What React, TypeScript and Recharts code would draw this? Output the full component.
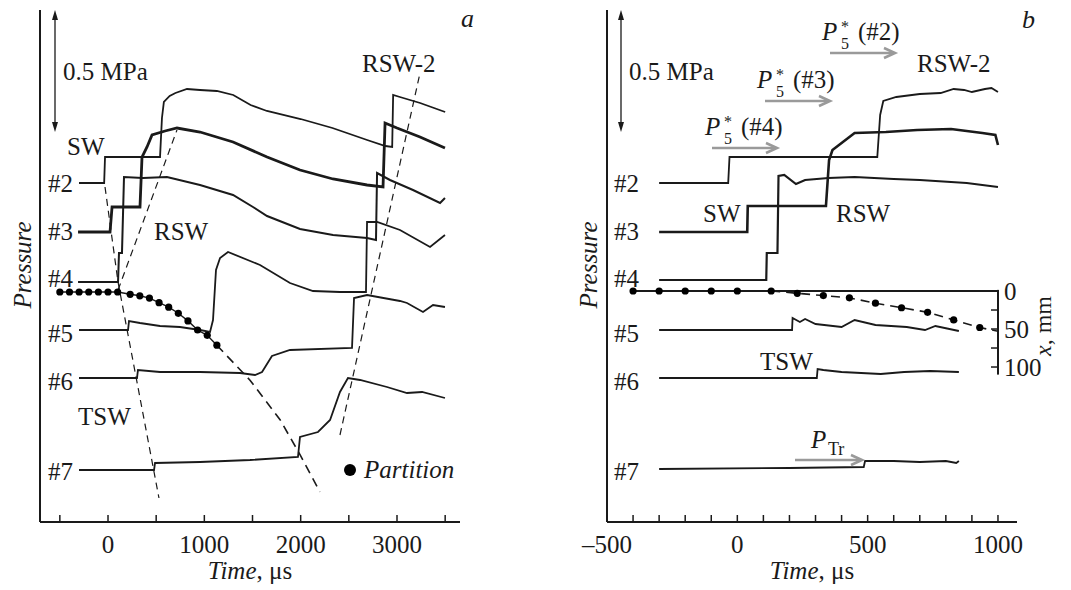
import React from "react";
import { LineChart, Line, XAxis, YAxis, ReferenceLine } from "recharts";

// time in µs, p = signal above the zero line (a.u.), x = partition position in mm
type Row = number[];
const toP = (rows: Row[]) => rows.map(([t, p]) => ({ t, p }));
const toX = (rows: Row[]) => rows.map(([t, x]) => ({ t, x }));

// ---- panel a ----
const aTicks = [-500, 0, 500, 1000, 1500, 2000, 2500, 3000, 3500];
const aTickLabels = [0, 1000, 2000, 3000];

const aGauge2 = toP([[-301, 339], [-40, 339], [-31, 365], [540, 365], [560, 404], [580, 420], [640, 426], [700, 429], [820, 433], [955, 432], [1130, 431], [1300, 427], [1480, 417], [1650, 411], [2000, 403], [2330, 394], [2690, 382], [2880, 376], [2950, 375], [2960, 427], [3030, 425], [3240, 419], [3500, 410]]);
const aGauge3 = toP([[-311, 290], [21, 290], [42, 315], [332, 315], [353, 365], [405, 375], [457, 387], [592, 391], [716, 394], [955, 390], [1298, 380], [1651, 365], [1993, 352], [2336, 343], [2689, 337], [2855, 335], [2876, 399], [3000, 394], [3239, 385], [3498, 374]]);
const aGauge4 = toP([[-311, 240], [104, 240], [114, 269], [145, 269], [166, 345], [363, 344], [612, 345], [955, 337], [1298, 327], [1505, 315], [1651, 306], [1993, 293], [2336, 287], [2689, 284], [2782, 282], [2793, 349], [2927, 342], [3166, 332], [3447, 319], [3498, 324]]);
const aGauge5 = toP([[-301, 192], [208, 192], [218, 201], [332, 199], [540, 196], [747, 195], [955, 192], [1059, 190], [1090, 202], [1121, 252], [1163, 264], [1246, 270], [1578, 257], [1889, 239], [2128, 231], [2408, 230], [2678, 230], [2689, 300], [2793, 300], [3031, 292], [3343, 275], [3498, 287]]);
const aGauge6 = toP([[-301, 144], [301, 144], [311, 152], [540, 150], [955, 150], [1370, 149], [1526, 147], [1599, 150], [1702, 166], [1889, 172], [2533, 174], [2554, 224], [2689, 227], [3031, 221], [3104, 219], [3270, 210], [3374, 217], [3498, 215]]);
const aGauge7 = toP([[-301, 52], [478, 52], [488, 59], [955, 60], [1474, 62], [1972, 65], [1993, 85], [2180, 90], [2305, 102], [2408, 130], [2491, 144], [2616, 142], [2896, 135], [3104, 129], [3260, 130], [3498, 124]]);

const aSwTsw = toP([[-31, 335], [104, 240], [529, 24]]);
const aRsw = toP([[104, 232], [716, 392]]);
const aRsw2 = toP([[2408, 87], [3239, 449]]);

const aPartition = toX([[-500, 0], [-400, 0], [-300, 0], [-200, 0], [-100, 0], [0, 0], [100, 0], [230, 3], [330, 5], [430, 8], [530, 14], [630, 20], [730, 28], [830, 38], [930, 50], [1030, 57], [1130, 70]]);
const aPartitionFit = toX([[1130, 70], [1474, 116], [1786, 168], [1993, 214], [2200, 263]]);

// ---- panel b ----
const bTicks = [-500, -400, -300, -200, -100, 0, 100, 200, 300, 400, 500, 600, 700, 800, 900, 1000];
const bTickLabels = [-500, 0, 500, 1000];
const mmTicks = [0, 25, 50, 75, 100];
const mmTickLabels = [0, 50, 100];

const bGauge2 = toP([[-300, 339], [-35, 339], [-30, 365], [537, 365], [548, 407], [560, 421], [610, 425], [700, 428], [780, 429], [830, 433], [870, 432], [900, 430], [950, 433], [975, 434], [1000, 430]]);
const bGauge3 = toP([[-300, 290], [38, 290], [40, 316], [340, 316], [352, 362], [365, 372], [400, 379], [450, 389], [570, 390], [690, 392], [820, 393], [940, 389], [990, 387], [1000, 377]]);
const bGauge4 = toP([[-300, 242], [111, 242], [113, 269], [154, 269], [158, 346], [180, 347], [225, 338], [260, 342], [350, 344], [450, 345], [600, 343], [700, 342], [880, 339], [1000, 335]]);
const bGauge5 = toP([[-300, 192], [210, 192], [212, 204], [240, 200], [260, 203], [300, 198], [400, 195], [450, 202], [530, 197], [650, 195], [720, 192], [760, 196], [850, 191]]);
const bGauge6 = toP([[-300, 144], [305, 144], [308, 153], [330, 152], [400, 150], [550, 148], [640, 150], [740, 151], [850, 150]]);
const bGauge7 = toP([[-300, 53], [200, 54], [485, 55], [490, 61], [600, 61], [700, 60], [800, 61], [840, 59], [850, 61]]);

const bPartition = toX([[-400, 0], [-300, 0], [-200, 0], [-100, 0], [0, 0], [130, 0], [230, 3], [330, 6], [430, 9], [530, 16], [630, 22], [730, 28], [830, 38], [930, 48]]);
const bPartitionFit = toX([[130, 0], [230, 3], [330, 6], [430, 9], [530, 16], [630, 22], [730, 28], [830, 38], [930, 48], [1000, 53]]);

const SERIF = '"Liberation Serif", "Times New Roman", serif';
const INK = "#1a1a1a";
const GREY = "#9a9a9a";

const fmt = (v: number) => (v < 0 ? "\u2013" + Math.abs(v) : String(v));

function XTick(props: any) {
    const { x, y, payload, labels } = props;
    const v = payload.value;
    return (
        <g>
            <line x1={x} x2={x} y1={y} y2={y - 7} stroke={INK} strokeWidth={1.5} />
            {labels.includes(v) && (
                <text x={x} y={y + 31} textAnchor="middle" fontSize={25} fontFamily={SERIF} fill={INK}>
                    {fmt(v)}
                </text>
            )}
        </g>
    );
}

// right-hand mm scale sits at t = 1000, 19px left of the plot edge
function MmTick(props: any) {
    const { x, y, payload } = props;
    const ax = x - 19;
    return (
        <g>
            <line x1={ax - 7} x2={ax} y1={y} y2={y} stroke={INK} strokeWidth={1.5} />
            {mmTickLabels.includes(payload.value) && (
                <text x={ax + 6} y={y + 9} fontSize={25} fontFamily={SERIF} fill={INK}>
                    {payload.value}
                </text>
            )}
        </g>
    );
}

function trace(data: any[], key: string, w = 1.8) {
    return (
        <Line
            key={key}
            yAxisId="p"
            data={data}
            dataKey="p"
            type="linear"
            stroke={INK}
            strokeWidth={w}
            dot={false}
            activeDot={false}
            isAnimationActive={false}
        />
    );
}

function dashed(data: any[], key: string, axis = "p", dash = "7 5", w = 1.2) {
    return (
        <Line
            key={key}
            yAxisId={axis}
            data={data}
            dataKey={axis === "p" ? "p" : "x"}
            type="linear"
            stroke={INK}
            strokeWidth={w}
            strokeDasharray={dash}
            dot={false}
            activeDot={false}
            isAnimationActive={false}
        />
    );
}

function dots(data: any[], key: string, lineW: number) {
    return (
        <Line
            key={key}
            yAxisId="mm"
            data={data}
            dataKey="x"
            type="linear"
            stroke={lineW ? INK : "none"}
            strokeWidth={lineW}
            dot={{ r: 3.6, fill: "#000", stroke: "none" }}
            activeDot={false}
            isAnimationActive={false}
        />
    );
}

function GreyArrow({ x1, x2, y }: { x1: number; x2: number; y: number }) {
    return (
        <g stroke={GREY} strokeWidth={2.6} fill="none">
            <line x1={x1} x2={x2 - 1} y1={y} y2={y} />
            <path d={`M${x2 - 11},${y - 5} L${x2},${y} L${x2 - 11},${y + 5}`} />
        </g>
    );
}

function ScaleArrow({ x }: { x: number }) {
    return (
        <g>
            <line x1={x} x2={x} y1={16} y2={126} stroke={INK} strokeWidth={1.3} />
            <path d={`M${x},10 L${x - 3},20 L${x + 3},20 Z`} fill={INK} />
            <path d={`M${x},132 L${x - 3},122 L${x + 3},122 Z`} fill={INK} />
        </g>
    );
}

function P5({ x, y, n }: { x: number; y: number; n: string }) {
    return (
        <g fontSize={25}>
            <text x={x} y={y} fontStyle="italic">P</text>
            <text x={x + 19} y={y - 8} fontSize={16}>*</text>
            <text x={x + 19} y={y + 9} fontSize={16}>5</text>
            <text x={x + 36} y={y}>({n})</text>
        </g>
    );
}

const gaugeLabels = [
    { n: "#2", y: 192 },
    { n: "#3", y: 240 },
    { n: "#4", y: 287 },
    { n: "#5", y: 342 },
    { n: "#6", y: 390 },
    { n: "#7", y: 480 },
];

function Annotations() {
    return (
        <svg
            width={1071}
            height={590}
            style={{ position: "absolute", left: 0, top: 0, pointerEvents: "none" }}
            fontFamily={SERIF}
            fill={INK}
        >
            {/* panel a */}
            <text x={461} y={27} fontSize={26} fontStyle="italic">a</text>
            <ScaleArrow x={55} />
            <text x={63} y={80} fontSize={25}>0.5 MPa</text>
            <text x={362} y={72} fontSize={25}>RSW-2</text>
            <text x={67} y={155} fontSize={25}>SW</text>
            <text x={154} y={240} fontSize={25}>RSW</text>
            <text x={78} y={425} fontSize={25}>TSW</text>
            {gaugeLabels.map((g) => (
                <text key={"a" + g.n} x={48} y={g.y} fontSize={25}>{g.n}</text>
            ))}
            <circle cx={350} cy={470} r={6} fill="#000" />
            <text x={364} y={478} fontSize={25} fontStyle="italic">Partition</text>
            <text x={31} y={265} fontSize={25} fontStyle="italic" textAnchor="middle" transform="rotate(-90 31 265)">Pressure</text>
            <text x={250} y={579} fontSize={25} textAnchor="middle">
                <tspan fontStyle="italic">Time</tspan>, μs
            </text>

            {/* panel b */}
            <text x={1022} y={28} fontSize={26} fontStyle="italic">b</text>
            <ScaleArrow x={621} />
            <text x={629} y={80} fontSize={25}>0.5 MPa</text>
            <text x={917} y={72} fontSize={25}>RSW-2</text>
            <P5 x={822} y={40} n="#2" />
            <GreyArrow x1={830} x2={895} y={53} />
            <P5 x={757} y={88} n="#3" />
            <GreyArrow x1={765} x2={830} y={101} />
            <P5 x={705} y={135} n="#4" />
            <GreyArrow x1={712} x2={777} y={148} />
            <text x={703} y={222} fontSize={25}>SW</text>
            <text x={836} y={222} fontSize={25}>RSW</text>
            <text x={760} y={370} fontSize={25}>TSW</text>
            <text x={811} y={448} fontSize={25} fontStyle="italic">P</text>
            <text x={828} y={455} fontSize={18}>Tr</text>
            <GreyArrow x1={795} x2={862} y={460} />
            {gaugeLabels.map((g) => (
                <text key={"b" + g.n} x={614} y={g.y} fontSize={25}>{g.n}</text>
            ))}
            <text x={597} y={265} fontSize={25} fontStyle="italic" textAnchor="middle" transform="rotate(-90 597 265)">Pressure</text>
            <text x={812} y={579} fontSize={25} textAnchor="middle">
                <tspan fontStyle="italic">Time</tspan>, μs
            </text>
            <text x={1051} y={326} fontSize={24} textAnchor="middle" transform="rotate(-90 1051 326)">
                <tspan fontStyle="italic">x</tspan>, mm
            </text>
        </svg>
    );
}

const axisLine = { stroke: INK, strokeWidth: 2 };

function PanelA() {
    return (
        <LineChart width={470} height={590} margin={{ top: 10, right: 10, left: 39, bottom: 28 }}>
            <XAxis
                type="number"
                dataKey="t"
                domain={[-706, 3654]}
                ticks={aTicks}
                interval={0}
                height={40}
                tickSize={0}
                tickMargin={0}
                tickLine={false}
                axisLine={axisLine}
                allowDataOverflow
                tick={(p: any) => <XTick {...p} labels={aTickLabels} />}
            />
            <YAxis yAxisId="p" type="number" domain={[0, 512]} width={1} tick={false} tickLine={false} axisLine={axisLine} allowDataOverflow />
            <YAxis yAxisId="mm" type="number" domain={[-371, 302.6]} reversed hide width={0} allowDataOverflow />
            <ReferenceLine yAxisId="p" segment={[{ x: -706, y: 0 }, { x: -706, y: 512 }]} stroke={INK} strokeWidth={2} ifOverflow="visible" />
            {dashed(aSwTsw, "sw")}
            {dashed(aRsw, "rsw")}
            {dashed(aRsw2, "rsw2")}
            {dashed(aPartitionFit, "pfit", "mm", "9 6", 1.6)}
            {trace(aGauge2, "a2")}
            {trace(aGauge3, "a3", 2.8)}
            {trace(aGauge4, "a4", 2)}
            {trace(aGauge5, "a5")}
            {trace(aGauge6, "a6")}
            {trace(aGauge7, "a7")}
            {dots(aPartition, "pdots", 1.4)}
        </LineChart>
    );
}

function PanelB() {
    return (
        <LineChart width={536} height={590} margin={{ top: 10, right: 53, left: 71, bottom: 28 }}>
            <XAxis
                type="number"
                dataKey="t"
                domain={[-500, 1073]}
                ticks={bTicks}
                interval={0}
                height={40}
                tickSize={0}
                tickMargin={0}
                tickLine={false}
                axisLine={axisLine}
                allowDataOverflow
                tick={(p: any) => <XTick {...p} labels={bTickLabels} />}
            />
            <YAxis yAxisId="p" type="number" domain={[0, 512]} width={1} tick={false} tickLine={false} axisLine={axisLine} allowDataOverflow />
            <YAxis
                yAxisId="mm"
                orientation="right"
                type="number"
                domain={[-369.7, 303.9]}
                reversed
                width={1}
                ticks={mmTicks}
                interval={0}
                tickSize={0}
                tickMargin={0}
                tickLine={false}
                axisLine={false}
                allowDataOverflow
                tick={(p: any) => <MmTick {...p} />}
            />
            <ReferenceLine yAxisId="p" segment={[{ x: -500, y: 0 }, { x: -500, y: 512 }]} stroke={INK} strokeWidth={2} ifOverflow="visible" />
            <ReferenceLine yAxisId="mm" segment={[{ x: -400, y: 0 }, { x: 1000, y: 0 }]} stroke={INK} strokeWidth={1.8} />
            <ReferenceLine yAxisId="mm" segment={[{ x: 1000, y: -1.5 }, { x: 1000, y: 110 }]} stroke={INK} strokeWidth={2} />
            {dashed(bPartitionFit, "pfit", "mm", "9 6", 1.6)}
            {trace(bGauge2, "b2")}
            {trace(bGauge3, "b3", 2.6)}
            {trace(bGauge4, "b4", 2.2)}
            {trace(bGauge5, "b5")}
            {trace(bGauge6, "b6")}
            {trace(bGauge7, "b7")}
            {dots(bPartition, "pdots", 0)}
        </LineChart>
    );
}

export default function App() {
    return (
        <div style={{ position: "absolute", left: 0, top: 0, width: 1071, height: 590, background: "#fff", fontFamily: SERIF }}>
            <div style={{ position: "absolute", left: 0, top: 0 }}>
                <PanelA />
            </div>
            <div style={{ position: "absolute", left: 535, top: 0 }}>
                <PanelB />
            </div>
            <Annotations />
        </div>
    );
}
